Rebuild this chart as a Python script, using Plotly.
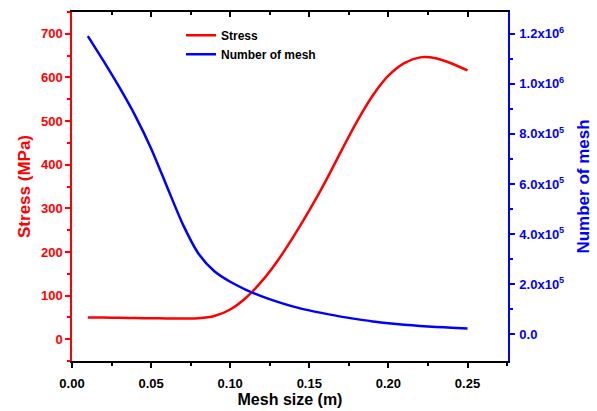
import plotly.graph_objects as go

mesh_size = [0.01, 0.02, 0.03, 0.04, 0.05, 0.06, 0.07, 0.08, 0.09, 0.10, 0.11, 0.12, 0.13,
             0.14, 0.15, 0.16, 0.17, 0.18, 0.19, 0.20, 0.21, 0.22, 0.23, 0.24, 0.25]
stress = [50, 49.5, 49, 48.5, 48, 47.5, 47.5, 48, 53, 68, 95, 133, 180,
          235, 295, 360, 430, 498, 558, 604, 633, 646, 644, 632, 616]
mesh_count = [1.19e6, 1.09e6, 0.985e6, 0.872e6, 0.742e6, 0.59e6, 0.44e6, 0.322e6, 0.252e6, 0.21e6,
              0.178e6, 0.152e6, 0.13e6, 0.111e6, 0.096e6, 0.083e6, 0.071e6, 0.061e6, 0.052e6,
              0.045e6, 0.039e6, 0.034e6, 0.03e6, 0.027e6, 0.024e6]

x_tickvals = [0, 0.05, 0.1, 0.15, 0.2, 0.25]
x_ticktext = ["0.00", "0.05", "0.10", "0.15", "0.20", "0.25"]
right_tickvals = [0, 2e5, 4e5, 6e5, 8e5, 1e6, 1.2e6]
right_ticktext = ["0.0", "2.0x10<sup>5</sup>", "4.0x10<sup>5</sup>", "6.0x10<sup>5</sup>",
                  "8.0x10<sup>5</sup>", "1.0x10<sup>6</sup>", "1.2x10<sup>6</sup>"]

FONT = "Liberation Sans, Arial, sans-serif"
RED = "#ff0000"
BLUE = "#0000ff"

fig = go.Figure()
fig.add_trace(go.Scatter(x=mesh_size, y=stress, mode="lines", name="Stress",
                         line=dict(color=RED, width=2.5, shape="spline", smoothing=0.7)))
fig.add_trace(go.Scatter(x=mesh_size, y=mesh_count, mode="lines", name="Number of mesh",
                         yaxis="y2", line=dict(color=BLUE, width=2.5, shape="spline", smoothing=0.7)))
# invisible trace to activate top axis
fig.add_trace(go.Scatter(x=[0.1], y=[0], xaxis="x2", mode="markers", marker=dict(opacity=0),
                         showlegend=False, hoverinfo="skip"))

fig.update_layout(
    width=597, height=411,
    margin=dict(l=72, r=89, t=12, b=50),
    paper_bgcolor="white", plot_bgcolor="white",
    font=dict(family=FONT, size=13, color="black"),
    showlegend=True,
    legend=dict(x=0.25, y=0.975, xanchor="left", yanchor="top", bgcolor="rgba(0,0,0,0)",
                font=dict(family=FONT, size=12, color="black", weight="bold"),
                tracegroupgap=0, itemwidth=30),
    xaxis=dict(range=[0, 0.2756], tickvals=x_tickvals, ticktext=x_ticktext, automargin=False,
               ticks="outside", ticklen=5, tickwidth=1.5, tickcolor="black", ticklabelstandoff=5,
               minor=dict(dtick=0.025, tick0=0, ticks="outside", ticklen=3, tickwidth=1.5, tickcolor="black"),
               showline=True, linecolor="black", linewidth=1.5, showgrid=False, zeroline=False,
               tickfont=dict(family=FONT, size=13, color="black", weight="bold"),
               title=dict(text="Mesh size (m)", standoff=2,
                          font=dict(family=FONT, size=16, color="black", weight="bold"))),
    xaxis2=dict(range=[0, 0.2756], overlaying="x", side="top", dtick=0.05, tick0=0, automargin=False,
                ticks="inside", ticklen=5, tickwidth=1.5, tickcolor="black", showticklabels=False,
                minor=dict(dtick=0.025, tick0=0, ticks="inside", ticklen=3, tickwidth=1.5, tickcolor="black"),
                showline=True, linecolor="black", linewidth=1.5, showgrid=False, zeroline=False),
    yaxis=dict(range=[-50, 750], dtick=100, tick0=0, automargin=False,
               ticks="outside", ticklen=5, tickwidth=1.5, tickcolor=RED,
               minor=dict(dtick=50, tick0=0, ticks="outside", ticklen=3, tickwidth=1.5, tickcolor=RED),
               showline=True, linecolor=RED, linewidth=1.5, showgrid=False, zeroline=False,
               tickfont=dict(family=FONT, size=13, color=RED, weight="bold"),
               title=dict(text="Stress (MPa)", standoff=6,
                          font=dict(family=FONT, size=17, color=RED, weight="bold"))),
    yaxis2=dict(range=[-1.06e5, 1.286e6], overlaying="y", side="right", automargin=False,
                tickvals=right_tickvals, ticktext=right_ticktext,
                ticks="outside", ticklen=5, tickwidth=1.5, tickcolor=BLUE, ticklabelstandoff=2,
                minor=dict(tickvals=[1e5, 3e5, 5e5, 7e5, 9e5, 1.1e6], ticks="outside", ticklen=3,
                           tickwidth=1.5, tickcolor=BLUE),
                showline=True, linecolor=BLUE, linewidth=1.5, showgrid=False, zeroline=False,
                tickfont=dict(family=FONT, size=13, color=BLUE, weight="bold"),
                title=dict(text="Number of mesh", standoff=14,
                           font=dict(family=FONT, size=17, color=BLUE, weight="bold"))),
)

fig.write_html("out.html")
